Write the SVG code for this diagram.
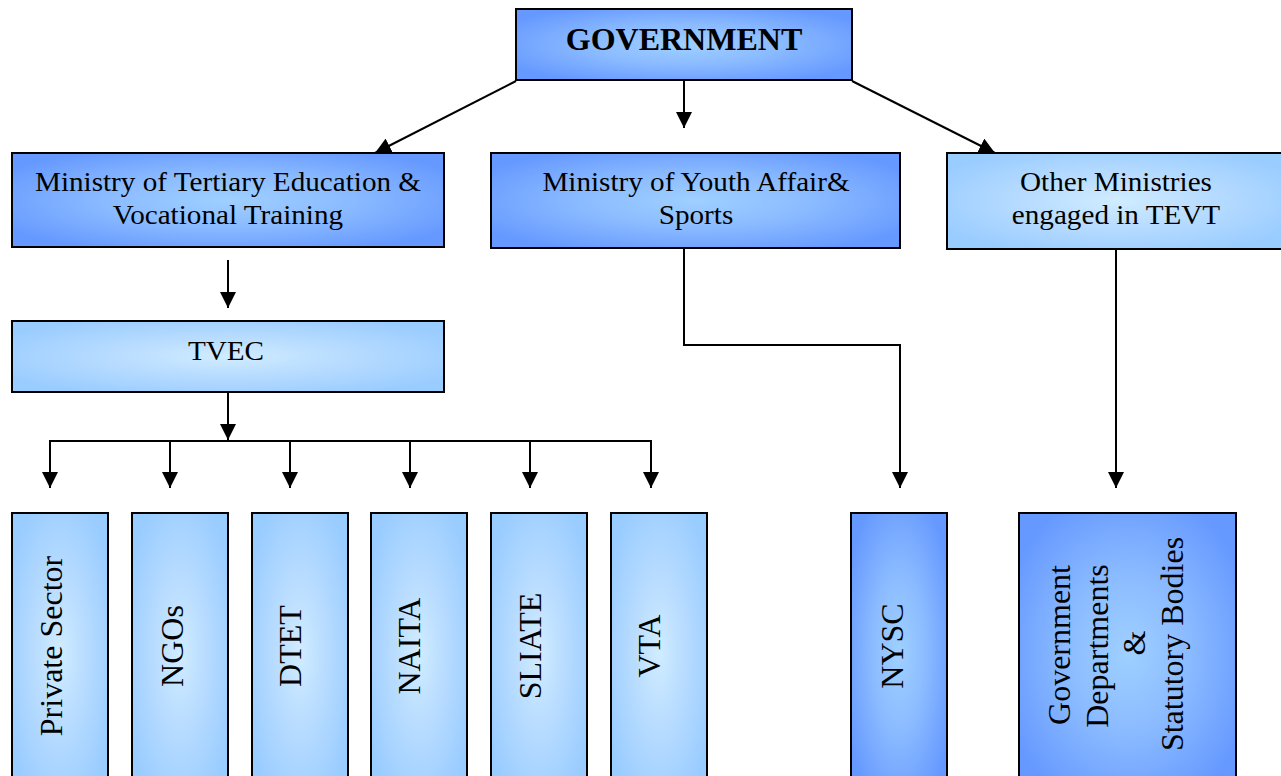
<svg xmlns="http://www.w3.org/2000/svg" width="1281" height="776" viewBox="0 0 1281 776">
<style>
.box{stroke:#000;stroke-width:2}
.dark{fill:url(#gDark)}
.light{fill:url(#gLight)}
.t{font-family:"Liberation Serif","Times New Roman",serif;font-size:27px;fill:#000;text-anchor:middle}
.v{font-family:"Liberation Serif","Times New Roman",serif;font-size:32px;fill:#000;text-anchor:middle}
.b{font-family:"Liberation Serif","Times New Roman",serif;font-size:32px;font-weight:bold;fill:#000;text-anchor:middle}
.c{fill:none;stroke:#000;stroke-width:2}
</style>
<defs>
<radialGradient id="gDark" cx="0.5" cy="0.5" r="0.6">
<stop offset="0" stop-color="#9fd0ff"/>
<stop offset="0.45" stop-color="#8cbcff"/>
<stop offset="1" stop-color="#6699ff"/>
</radialGradient>
<radialGradient id="gLight" cx="0.5" cy="0.5" r="0.6">
<stop offset="0" stop-color="#d0ecff"/>
<stop offset="0.45" stop-color="#b8dcff"/>
<stop offset="1" stop-color="#99ccff"/>
</radialGradient>
<marker id="arr" markerUnits="userSpaceOnUse" markerWidth="16" markerHeight="16" viewBox="0 0 16 16" refX="16" refY="8" orient="auto">
<path d="M0,0 L16,8 L0,16 Z" fill="#000"/>
</marker>
</defs>

<g id="connectors">
<line class="c" x1="516" y1="81" x2="375" y2="153" marker-end="url(#arr)"/>
<line class="c" x1="684" y1="81" x2="684" y2="128" marker-end="url(#arr)"/>
<line class="c" x1="852" y1="81" x2="995" y2="153" marker-end="url(#arr)"/>
<line class="c" x1="228" y1="260" x2="228" y2="308" marker-end="url(#arr)"/>
<line class="c" x1="228" y1="393" x2="228" y2="440" marker-end="url(#arr)"/>
<line class="c" x1="49" y1="441" x2="652" y2="441"/>
<line class="c" x1="50" y1="441" x2="50" y2="488" marker-end="url(#arr)"/>
<line class="c" x1="170" y1="441" x2="170" y2="488" marker-end="url(#arr)"/>
<line class="c" x1="290" y1="441" x2="290" y2="488" marker-end="url(#arr)"/>
<line class="c" x1="410" y1="441" x2="410" y2="488" marker-end="url(#arr)"/>
<line class="c" x1="530" y1="441" x2="530" y2="488" marker-end="url(#arr)"/>
<line class="c" x1="651" y1="441" x2="651" y2="488" marker-end="url(#arr)"/>
<polyline class="c" points="684,249 684,345 900,345 900,488" marker-end="url(#arr)"/>
<line class="c" x1="1116" y1="250" x2="1116" y2="488" marker-end="url(#arr)"/>
</g>

<g id="government">
<rect class="box dark" x="516" y="9" width="336" height="71"/>
<text class="b" x="684" y="50">GOVERNMENT</text>
</g>

<g id="ministry-tertiary">
<rect class="box dark" x="12" y="153" width="432" height="94"/>
<g transform="translate(228 0) scale(1.08 1)">
<text class="t" x="0" y="191">Ministry of Tertiary Education &amp;</text>
<text class="t" x="0" y="224">Vocational Training</text>
</g>
</g>

<g id="ministry-youth">
<rect class="box dark" x="491" y="153" width="409" height="95"/>
<g transform="translate(696 0) scale(1.08 1)">
<text class="t" x="0" y="191">Ministry of Youth Affair&amp;</text>
<text class="t" x="0" y="224">Sports</text>
</g>
</g>

<g id="other-ministries">
<rect class="box light" x="947" y="153" width="340" height="96"/>
<g transform="translate(1116 0) scale(1.08 1)">
<text class="t" x="0" y="191">Other Ministries</text>
<text class="t" x="0" y="224">engaged in TEVT</text>
</g>
</g>

<g id="tvec">
<rect class="box light" x="12" y="321" width="432" height="71"/>
<g transform="translate(226 0) scale(1.08 1)">
<text class="t" x="0" y="360">TVEC</text>
</g>
</g>

<g id="private-sector">
<rect class="box light" x="12" y="513" width="96" height="280"/>
<text class="v" transform="translate(62 646) rotate(-90)">Private Sector</text>
</g>
<g id="ngos">
<rect class="box light" x="132" y="513" width="96" height="280"/>
<text class="v" transform="translate(183 646) rotate(-90)">NGOs</text>
</g>
<g id="dtet">
<rect class="box light" x="252" y="513" width="96" height="280"/>
<text class="v" transform="translate(301 646) rotate(-90)">DTET</text>
</g>
<g id="naita">
<rect class="box light" x="371" y="513" width="96" height="280"/>
<text class="v" transform="translate(420 646) rotate(-90)">NAITA</text>
</g>
<g id="sliate">
<rect class="box light" x="491" y="513" width="96" height="280"/>
<text class="v" transform="translate(541 646) rotate(-90)">SLIATE</text>
</g>
<g id="vta">
<rect class="box light" x="611" y="513" width="96" height="280"/>
<text class="v" transform="translate(660 646) rotate(-90)">VTA</text>
</g>

<g id="nysc">
<rect class="box dark" x="851" y="513" width="96" height="280"/>
<text class="v" transform="translate(903 646) rotate(-90)">NYSC</text>
</g>

<g id="gov-departments">
<rect class="box dark" x="1019" y="513" width="217" height="280"/>
<text class="v" transform="translate(1070 645) rotate(-90)">Government</text>
<text class="v" transform="translate(1108 646) rotate(-90)">Departments</text>
<text class="v" transform="translate(1145 643) rotate(-90)">&amp;</text>
<text class="v" transform="translate(1183 644) rotate(-90)">Statutory Bodies</text>
</g>
</svg>
